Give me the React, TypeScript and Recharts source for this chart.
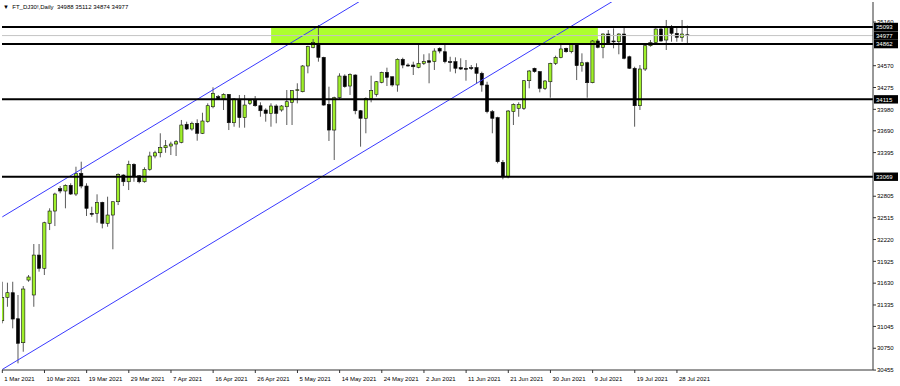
import React from 'react';
import { ComposedChart, Bar, XAxis, YAxis, ReferenceLine, ReferenceArea } from 'recharts';

document.body.style.margin = '0';

// daily bars, broker feed includes the short Sunday sessions
const dates = [
  '1 Mar 2021', '2 Mar 2021', '3 Mar 2021', '4 Mar 2021', '5 Mar 2021', '7 Mar 2021', '8 Mar 2021', '9 Mar 2021',
  '10 Mar 2021', '11 Mar 2021', '12 Mar 2021', '14 Mar 2021', '15 Mar 2021', '16 Mar 2021', '17 Mar 2021', '18 Mar 2021',
  '19 Mar 2021', '21 Mar 2021', '22 Mar 2021', '23 Mar 2021', '24 Mar 2021', '25 Mar 2021', '26 Mar 2021', '28 Mar 2021',
  '29 Mar 2021', '30 Mar 2021', '31 Mar 2021', '1 Apr 2021', '2 Apr 2021', '4 Apr 2021', '5 Apr 2021', '6 Apr 2021',
  '7 Apr 2021', '8 Apr 2021', '9 Apr 2021', '11 Apr 2021', '12 Apr 2021', '13 Apr 2021', '14 Apr 2021', '15 Apr 2021',
  '16 Apr 2021', '18 Apr 2021', '19 Apr 2021', '20 Apr 2021', '21 Apr 2021', '22 Apr 2021', '23 Apr 2021', '25 Apr 2021',
  '26 Apr 2021', '27 Apr 2021', '28 Apr 2021', '29 Apr 2021', '30 Apr 2021', '2 May 2021', '3 May 2021', '4 May 2021',
  '5 May 2021', '6 May 2021', '7 May 2021', '9 May 2021', '10 May 2021', '11 May 2021', '12 May 2021', '13 May 2021',
  '14 May 2021', '16 May 2021', '17 May 2021', '18 May 2021', '19 May 2021', '20 May 2021', '21 May 2021', '23 May 2021',
  '24 May 2021', '25 May 2021', '26 May 2021', '27 May 2021', '28 May 2021', '30 May 2021', '31 May 2021', '1 Jun 2021',
  '2 Jun 2021', '3 Jun 2021', '4 Jun 2021', '6 Jun 2021', '7 Jun 2021', '8 Jun 2021', '9 Jun 2021', '10 Jun 2021',
  '11 Jun 2021', '13 Jun 2021', '14 Jun 2021', '15 Jun 2021', '16 Jun 2021', '17 Jun 2021', '18 Jun 2021', '20 Jun 2021',
  '21 Jun 2021', '22 Jun 2021', '23 Jun 2021', '24 Jun 2021', '25 Jun 2021', '27 Jun 2021', '28 Jun 2021', '29 Jun 2021',
  '30 Jun 2021', '1 Jul 2021', '2 Jul 2021', '4 Jul 2021', '5 Jul 2021', '6 Jul 2021', '7 Jul 2021', '8 Jul 2021',
  '9 Jul 2021', '11 Jul 2021', '12 Jul 2021', '13 Jul 2021', '14 Jul 2021', '15 Jul 2021', '16 Jul 2021', '18 Jul 2021',
  '19 Jul 2021', '20 Jul 2021', '21 Jul 2021', '22 Jul 2021', '23 Jul 2021', '25 Jul 2021', '26 Jul 2021', '27 Jul 2021',
  '28 Jul 2021', '29 Jul 2021', '30 Jul 2021',
];

const opens = [
  31122, 31438, 31501, 31149, 30825, 31672, 31470, 32010, 31831, 32439, 32605, 32907, 32876, 32953, 32835, 33115,
  32943, 32574, 32574, 32723, 32439, 32551, 32731, 33092, 33001, 33237, 33082, 33001, 33169, 33349, 33393, 33461,
  33484, 33511, 33534, 33778, 33714, 33791, 33656, 33813, 34015, 34151, 34120, 34183, 33799, 34106, 33867, 34061,
  34102, 34029, 33971, 33926, 34025, 33971, 34015, 34075, 34235, 34218, 34566, 34818, 34873, 34683, 34048, 33700,
  34137, 34430, 34295, 34444, 33961, 33859, 34129, 34183, 34345, 34480, 34421, 34309, 34656, 34579, 34579, 34548,
  34602, 34637, 34624, 34805, 34759, 34624, 34624, 34543, 34535, 34543, 34543, 34467, 34309, 33948, 33867, 33264,
  33069, 33948, 33994, 33994, 34367, 34535, 34489, 34264, 34353, 34602, 34678, 34805, 34759, 34859, 34570, 34610,
  34340, 34904, 34818, 34998, 34904, 34894, 34998, 34691, 34535, 34029, 34525, 34840, 34881, 35066, 34917, 35097,
  35008, 34954, 34988,
];

const highs = [
  31649, 31636, 31649, 31470, 31591, 31740, 32159, 32159, 32461, 32642, 32853, 32943, 32966, 32980, 33204, 33272,
  32980, 32663, 32831, 32731, 32799, 32731, 33115, 33101, 33285, 33250, 33092, 33196, 33407, 33420, 33656, 33565,
  33542, 33565, 33836, 33813, 33813, 33845, 33934, 34061, 34278, 34174, 34197, 34187, 34129, 34174, 34174, 34115,
  34160, 34075, 33994, 34061, 34048, 34038, 34241, 34241, 34332, 34579, 34840, 34931, 35120, 34691, 34286, 34151,
  34467, 34453, 34467, 34453, 33971, 34142, 34435, 34363, 34489, 34543, 34421, 34670, 34678, 34602, 34624, 34873,
  34724, 34737, 34805, 34818, 34873, 34691, 34683, 34670, 34647, 34579, 34602, 34489, 34353, 33971, 33880, 33295,
  33971, 34061, 34075, 34376, 34512, 34543, 34498, 34376, 34610, 34705, 34859, 34813, 34873, 34873, 34737, 34624,
  34917, 34931, 35008, 35052, 35075, 35008, 35097, 34705, 34556, 34579, 34850, 34917, 35075, 35084, 35188, 35120,
  35097, 35188, 35112,
];

const lows = [
  31087, 31311, 31019, 30546, 30703, 31649, 31311, 31785, 31740, 32348, 32402, 32845, 32642, 32822, 32808, 32912,
  32538, 32528, 32447, 32371, 32393, 32088, 32686, 32943, 32889, 33001, 32980, 32988, 33150, 33318, 33331, 33393,
  33362, 33349, 33521, 33700, 33691, 33556, 33646, 33799, 33994, 34106, 33971, 33700, 33745, 33732, 33732, 34038,
  34015, 33880, 33813, 33745, 33791, 33948, 33768, 33768, 34061, 34210, 34467, 34805, 34624, 34029, 33552, 33295,
  34106, 34272, 34174, 33913, 33475, 33656, 34075, 34151, 34332, 34295, 34286, 34218, 34535, 34556, 34444, 34535,
  34579, 34332, 34512, 34737, 34602, 34489, 34467, 34512, 34367, 34512, 34332, 34218, 33926, 33656, 33250, 33034,
  33047, 33768, 33880, 33971, 34264, 34475, 34210, 34241, 34137, 34579, 34670, 34746, 34737, 34376, 34489, 34137,
  34332, 34805, 34670, 34859, 34805, 34724, 34656, 34525, 33745, 33971, 34498, 34827, 34873, 34894, 34782, 34894,
  34894, 34894, 34874,
];

const closes = [
  31438, 31501, 31145, 30817, 31551, 31713, 32010, 31831, 32447, 32605, 32835, 32876, 32953, 32835, 33115, 32943,
  32642, 32561, 32723, 32439, 32551, 32731, 33101, 33001, 33237, 33069, 33001, 33169, 33349, 33393, 33466, 33488,
  33511, 33542, 33768, 33714, 33791, 33656, 33822, 34029, 34197, 34120, 34183, 33799, 34120, 33867, 34038, 34102,
  34029, 33961, 33926, 34025, 33926, 34025, 34083, 34232, 34245, 34566, 34827, 34881, 34683, 34038, 33700, 34137,
  34430, 34286, 34453, 33961, 33859, 34129, 34232, 34353, 34480, 34413, 34309, 34656, 34579, 34566, 34556, 34602,
  34624, 34616, 34768, 34768, 34624, 34616, 34535, 34525, 34521, 34535, 34467, 34309, 33948, 33859, 33272, 33069,
  33957, 34048, 34048, 34367, 34498, 34489, 34264, 34363, 34602, 34683, 34796, 34759, 34859, 34570, 34610, 34340,
  34904, 34818, 34998, 34873, 34894, 34998, 34670, 34535, 34029, 34525, 34840, 34881, 35066, 34904, 35097, 35008,
  34954, 34998, 34977,
];

// horizontal levels drawn on the chart (price, colour, width)
const levels = [
  { price: 35093, color: '#000', width: 2 },
  { price: 34977, color: '#c4c4c4', width: 1 },
  { price: 34862, color: '#000', width: 2 },
  { price: 34115, color: '#000', width: 2 },
  { price: 33069, color: '#000', width: 2 },
];

// supply zone rectangle: bar index range and price range
const zoneBars = [51, 113];
const zonePrices = [34862, 35093];

// rising channel, two anchor points each (bar index, price)
const channelUpper = [{ x: 0, y: 32526 }, { x: 70, y: 35534 }];
const channelLower = [{ x: 0, y: 30464 }, { x: 118, y: 35535 }];

const priceTicks = [35160, 34570, 34275, 33980, 33690, 33395, 32805, 32515, 32220, 31925, 31630, 31335, 31045, 30750, 30455];
const dateTickIdx = [0, 8, 16, 24, 32, 40, 48, 56, 64, 72, 80, 88, 96, 104, 112, 120, 128];

const data = dates.map((date, i) => ({
  i,
  date,
  open: opens[i],
  high: highs[i],
  low: lows[i],
  close: closes[i],
}));

const FONT = '"Liberation Sans", Arial, sans-serif';
const BULL = '#9ff02a';
const BEAR = '#000';

const Candle = (props: any) => {
  const { x, y, width, height, payload } = props;
  if (height == null || !payload) return null;
  const { open, close, high, low } = payload;
  const cx = x + width / 2;
  const k = height / Math.max(high - low, 1);
  const yOf = (v: number) => y + (high - v) * k;
  const up = close >= open;
  const top = yOf(Math.max(open, close));
  const bot = yOf(Math.min(open, close));
  return (
    <g>
      <line x1={cx} x2={cx} y1={y} y2={y + height} stroke="#5a5a5a" strokeWidth={1} />
      <rect
        x={cx - 1.6}
        y={top}
        width={3.2}
        height={Math.max(bot - top, 0.9)}
        fill={up ? BULL : BEAR}
        stroke="#111"
        strokeWidth={0.6}
      />
    </g>
  );
};

const DateTick = ({ x, y, payload }: any) => (
  <text x={x + 2} y={y + 6} fontSize={6} fontFamily={FONT} fill="#000" textAnchor="start">
    {dates[payload.value]}
  </text>
);

const PriceTick = ({ x, y, payload }: any) => (
  <text x={x + 1} y={y + 2.2} fontSize={6} fontFamily={FONT} fill="#000" textAnchor="start">
    {payload.value}
  </text>
);

const LevelTag = ({ viewBox, text }: any) => {
  if (!viewBox) return null;
  const x = viewBox.x + viewBox.width + 1;
  const y = viewBox.y;
  return (
    <g>
      <rect x={x} y={y - 4.2} width={24} height={8.4} fill="#000" />
      <text x={x + 2} y={y + 2.2} fontSize={6} fontFamily={FONT} fill="#fff" textAnchor="start">
        {text}
      </text>
    </g>
  );
};

export default function App() {
  return (
    <div style={{ position: 'relative', width: 900, height: 386, background: '#fff' }}>
      <ComposedChart width={900} height={386} data={data} margin={{ top: 2, right: 0, bottom: 0, left: 2 }}>
        <XAxis
          dataKey="i"
          type="number"
          domain={[-0.06, 165.2]}
          allowDataOverflow
          ticks={dateTickIdx}
          tick={<DateTick />}
          tickSize={3}
          height={16}
          stroke="#333"
          interval={0}
        />
        <YAxis
          orientation="right"
          type="number"
          domain={[30456, 35431]}
          allowDataOverflow
          ticks={priceTicks}
          tick={<PriceTick />}
          tickSize={3}
          tickMargin={0}
          width={27}
          stroke="#333"
          interval={0}
        />
        <ReferenceArea
          x1={zoneBars[0]}
          x2={zoneBars[1]}
          y1={zonePrices[0]}
          y2={zonePrices[1]}
          fill="#adff2f"
          fillOpacity={1}
          stroke="none"
        />
        <Bar dataKey={(d: any) => [d.low, d.high]} barSize={3} shape={<Candle />} isAnimationActive={false} />
        <ReferenceLine segment={channelUpper} stroke="#3a3aff" strokeWidth={1} ifOverflow="hidden" />
        <ReferenceLine segment={channelLower} stroke="#3a3aff" strokeWidth={1} ifOverflow="hidden" />
        {levels.map((lv) => (
          <ReferenceLine
            key={lv.price}
            y={lv.price}
            stroke={lv.color}
            strokeWidth={lv.width}
            label={<LevelTag text={String(lv.price)} />}
          />
        ))}
        <ReferenceArea fill="none" stroke="#555" strokeWidth={1} ifOverflow="visible" />
      </ComposedChart>
      <div
        style={{
          position: 'absolute',
          left: 3,
          top: 3,
          fontSize: 6,
          fontFamily: FONT,
          color: '#000',
          whiteSpace: 'pre',
          lineHeight: '8px',
        }}
      >
        {'▼  FT_DJ30!,Daily  34988 35112 34874 34977'}
      </div>
    </div>
  );
}
